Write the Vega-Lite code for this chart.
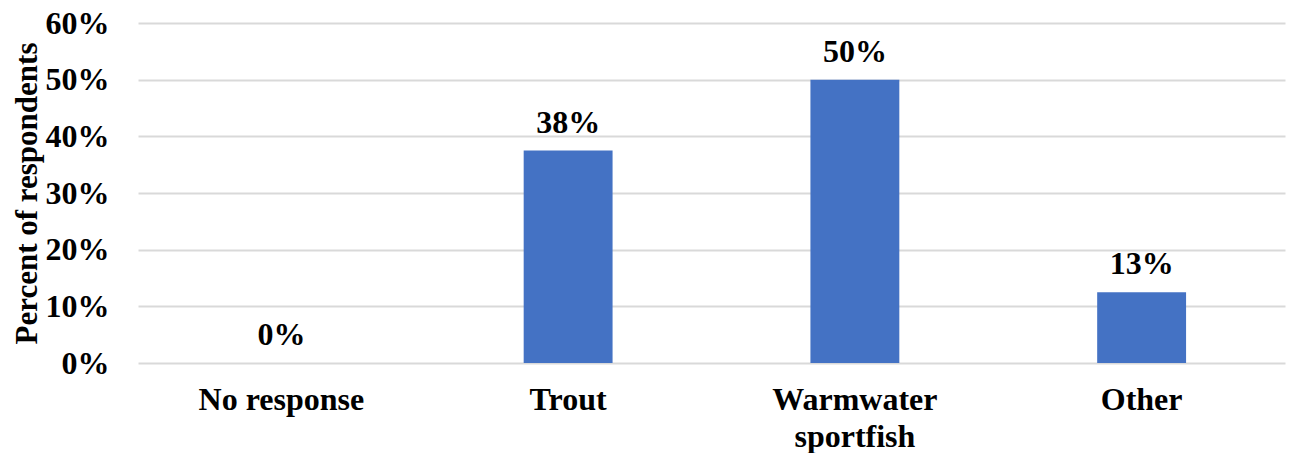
{
  "$schema": "https://vega.github.io/schema/vega-lite/v6.json",
  "autosize": {"type": "none"},
  "padding": {"left": 138, "top": 23, "right": 7, "bottom": 90},
  "width": 1147,
  "height": 340,
  "background": "white",
  "config": {
    "view": {"stroke": null},
    "font": "Liberation Serif"
  },
  "data": {
    "values": [
      {"category": "No response", "value": 0, "label": "0%"},
      {"category": "Trout", "value": 0.375, "label": "38%"},
      {"category": "Warmwater sportfish", "value": 0.5, "label": "50%"},
      {"category": "Other", "value": 0.125, "label": "13%"}
    ]
  },
  "encoding": {
    "x": {
      "field": "category",
      "type": "nominal",
      "sort": null,
      "scale": {"paddingInner": 0.69, "paddingOuter": 0.345},
      "axis": {
        "title": null,
        "labelAngle": 0,
        "domain": false,
        "ticks": false,
        "labelFont": "Liberation Serif",
        "labelFontSize": 32,
        "labelFontWeight": "bold",
        "labelColor": "black",
        "labelPadding": 21,
        "labelLineHeight": 37,
        "labelExpr": "datum.label == 'Warmwater sportfish' ? ['Warmwater', 'sportfish'] : datum.label"
      }
    },
    "y": {
      "field": "value",
      "type": "quantitative",
      "scale": {"domain": [0, 0.6], "nice": false},
      "axis": {
        "title": "Percent of respondents",
        "titleFont": "Liberation Serif",
        "titleFontSize": 31,
        "titleFontWeight": "bold",
        "titleColor": "black",
        "titlePadding": 2,
        "format": ".0%",
        "values": [0, 0.1, 0.2, 0.3, 0.4, 0.5, 0.6],
        "domain": false,
        "ticks": false,
        "grid": true,
        "gridColor": "#d9d9d9",
        "gridWidth": 2,
        "labelFont": "Liberation Serif",
        "labelFontSize": 32,
        "labelFontWeight": "bold",
        "labelColor": "black",
        "labelPadding": 29
      }
    }
  },
  "layer": [
    {"mark": {"type": "bar", "color": "#4472C4"}},
    {
      "mark": {"type": "text", "dy": -28, "font": "Liberation Serif", "fontSize": 32, "fontWeight": "bold", "color": "black"},
      "encoding": {"text": {"field": "label"}}
    }
  ]
}
